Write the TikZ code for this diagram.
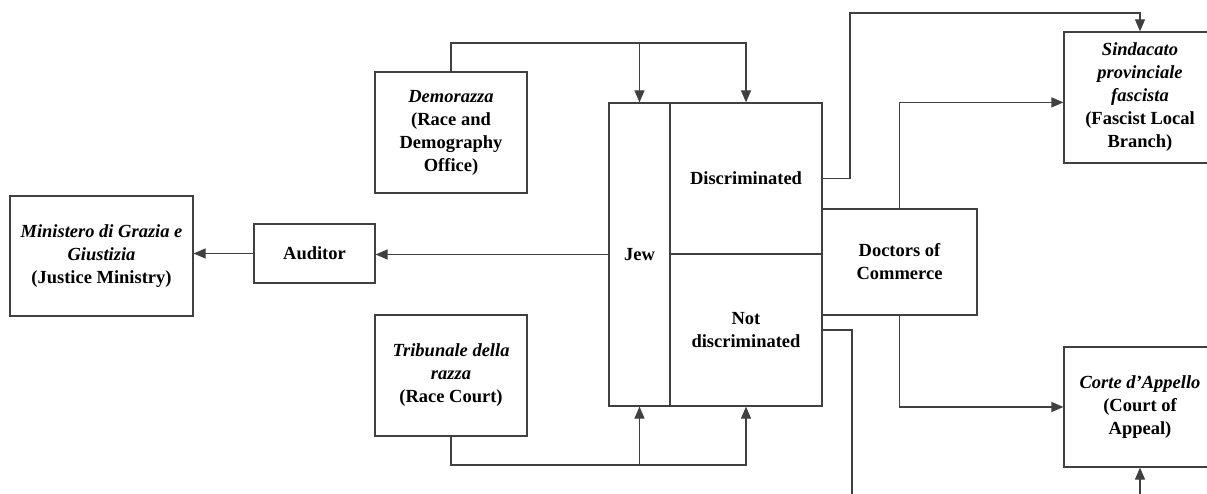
\documentclass[tikz,border=0pt]{standalone}
\usepackage{fontspec}
\setmainfont{Liberation Serif}
\usepackage{tikz}
\usetikzlibrary{arrows.meta, positioning}

\begin{document}
\begin{tikzpicture}[
    x=1pt, y=-1pt,
    font=\bfseries\fontsize{18.5}{23}\selectfont,
    box/.style={rectangle,draw=black!75,line width=1.2pt,align=center,inner sep=0pt},
    arrow/.style={-{Triangle[length=12pt,width=10pt]}, line width=1.2pt, draw=black!75},
    wire/.style={line width=1.2pt, draw=black!75}
]
\useasboundingbox (0,0) rectangle (1207,494);

% left side
\node[box, minimum width=183, minimum height=120] (ministero) at (101.5,256) {\textit{Ministero di Grazia e}\\ \textit{Giustizia}\\ (Justice Ministry)};
\node[box, minimum width=121, minimum height=59] (auditor) at (314.5,253.5) {Auditor};
\node[box, minimum width=152, minimum height=121] (demorazza) at (451,132.5) {\textit{Demorazza}\\ (Race and\\ Demography\\ Office)};
\node[box, minimum width=152, minimum height=121] (tribunale) at (451,375.5) {\textit{Tribunale della}\\ \textit{razza}\\ (Race Court)};

% central block
\node[box, minimum width=61, minimum height=303] (jew) at (639.5,254.5) {Jew};
\node[box, minimum width=152, minimum height=151] (disc) at (746,178.5) {Discriminated};
\node[box, minimum width=152, minimum height=152] (notdisc) at (746,330) {Not\\ discriminated};

% right side
\node[box, minimum width=155, minimum height=106] (doctors) at (899.5,262) {Doctors of\\ Commerce};
\node[box, minimum width=152, minimum height=131] (sindacato) at (1140,97.5) {\textit{Sindacato}\\ \textit{provinciale}\\ \textit{fascista}\\ (Fascist Local\\ Branch)};
\node[box, minimum width=152, minimum height=120] (corte) at (1140,407) {\textit{Corte d’Appello}\\ (Court of\\ Appeal)};

% rails and loose ends
\coordinate (toprail) at (451,43);
\coordinate (botrail) at (451,465);
\coordinate (highrail) at (850,13);
\coordinate (ndend) at (852,500);
\coordinate (corteend) at (1140,500);

\draw[arrow] (jew.west) -- (jew.west -| auditor.east);
\draw[arrow] (auditor.west) -- (auditor.west -| ministero.east);

\draw[arrow] (demorazza.north) -- (toprail) -| (disc.north);
\draw[arrow] (jew.north |- toprail) -- (jew.north);
\draw[arrow] (tribunale.south) -- (botrail) -| (notdisc.south);
\draw[arrow] (jew.south |- botrail) -- (jew.south);

\draw[arrow] (disc.east) -| (highrail) -| (sindacato.north);
\draw[wire] (notdisc.east) -| (ndend);
\draw[arrow] (doctors.north) |- (sindacato.west |- disc.north);
\draw[arrow] (doctors.south) |- (corte.west);
\draw[arrow] (corteend) -- (corte.south);

\end{tikzpicture}
\end{document}
